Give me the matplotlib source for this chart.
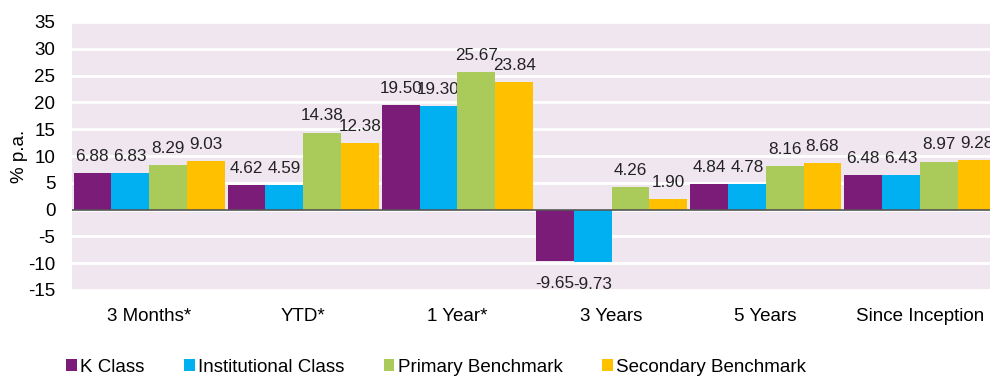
import numpy as np
import matplotlib
matplotlib.use("Agg")
import matplotlib.pyplot as plt

plt.rcParams['font.family'] = ['Liberation Sans', 'DejaVu Sans']

categories = ['3 Months*', 'YTD*', '1 Year*', '3 Years', '5 Years', 'Since Inception']
series_names = ['K Class', 'Institutional Class', 'Primary Benchmark', 'Secondary Benchmark']
k_class = [6.88, 4.62, 19.50, -9.65, 4.84, 6.48]
institutional = [6.83, 4.59, 19.30, -9.73, 4.78, 6.43]
primary = [8.29, 14.38, 25.67, 4.26, 8.16, 8.97]
secondary = [9.03, 12.38, 23.84, 1.90, 8.68, 9.28]
yticks = list(range(-15, 40, 5))

colors = ['#7B1C79', '#00B0F0', '#AACB5A', '#FFC000']
series = [k_class, institutional, primary, secondary]

fig = plt.figure(figsize=(9.9, 3.77), dpi=100)
ax = fig.add_axes([72 / 990, 1 - 290 / 377, 925 / 990, 268 / 377])
ax.set_facecolor('#F0E6F0')

x = np.arange(len(categories))
w = 0.245
for i, (vals, c) in enumerate(zip(series, colors)):
    pos = x + (i - 1.5) * w
    ax.bar(pos, vals, width=w, color=c, label=series_names[i], zorder=3)
    for p, v in zip(pos, vals):
        if v >= 0:
            ax.text(p, v + 1.7, '%.2f' % v, ha='center', va='bottom', fontsize=12.3, color='#222222')
        else:
            ax.text(p, v - 2.8, '%.2f' % v, ha='center', va='top', fontsize=12.3, color='#222222')

ax.set_ylim(-15, 35)
ax.set_xlim(-0.5, len(categories) - 0.5)
ax.set_yticks(yticks)
ax.set_yticklabels([str(t) for t in yticks], fontsize=13.5)
ax.set_xticks(x)
ax.set_xticklabels(categories, fontsize=13.5)
ax.tick_params(axis='both', length=0)
ax.tick_params(axis='x', pad=13)
ax.tick_params(axis='y', pad=12)
ax.grid(axis='y', color='white', linewidth=2, zorder=1)
ax.axhline(0, color='#555555', linewidth=1.2, zorder=4)
for s in ax.spines.values():
    s.set_visible(False)
ax.set_ylabel('% p.a.', fontsize=13.5, labelpad=0)

fig.legend(loc='center left', bbox_to_anchor=(57 / 990, 1 - 367 / 377), ncol=4, frameon=False,
           fontsize=13.5, handlelength=0.55, handleheight=0.55, handletextpad=0.2,
           columnspacing=2.1, borderpad=0)

fig.savefig('out.png', dpi=100)
